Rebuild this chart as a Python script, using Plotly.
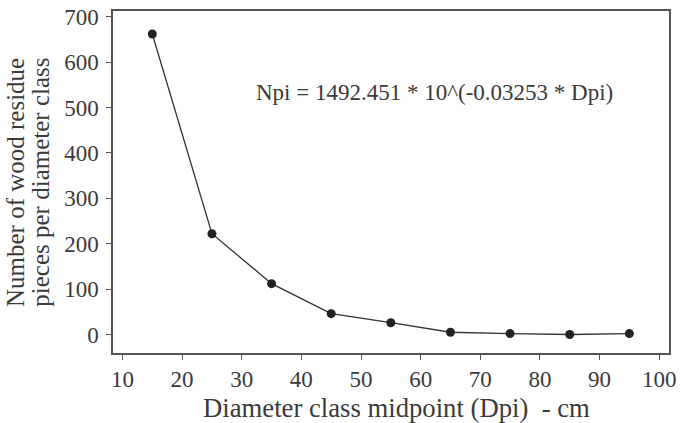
import plotly.graph_objects as go

dpi = [15, 25, 35, 45, 55, 65, 75, 85, 95]
npi = [662, 222, 112, 46, 26, 5, 2, 0, 2]
x_ticks = [10, 20, 30, 40, 50, 60, 70, 80, 90, 100]
y_ticks = [0, 100, 200, 300, 400, 500, 600, 700]
equation = "Npi = 1492.451 * 10^(-0.03253 * Dpi)"
x_title = "Diameter class midpoint (Dpi)  - cm"
y_title_lines = ["Number of wood residue", "pieces per diameter class"]

font_family = "Liberation Serif, Times New Roman, serif"
text_color = "#3a3a3a"

L, R, T, B = 112.7, 676.7, 6.0, 353.3
W, H = 682, 423

fig = go.Figure()
fig.add_trace(go.Scatter(
    x=dpi, y=npi, mode="lines+markers",
    line=dict(color="#333333", width=1.3),
    marker=dict(color="#222222", size=9),
    showlegend=False,
))

axis_common = dict(
    showline=True, linecolor="#555555", linewidth=1.5, mirror=True,
    ticks="outside", ticklen=5, tickcolor="#555555", tickwidth=1,
    showgrid=False, zeroline=False, ticklabeloverflow="allow",
    tickfont=dict(family=font_family, size=23, color=text_color),
)

fig.update_xaxes(range=[8.41, 101.65], tickvals=x_ticks, ticklabelstandoff=0, **axis_common)
fig.update_yaxes(range=[-40.7, 712.6], tickvals=y_ticks, ticklabelstandoff=3, **axis_common)

def px_to_paper_x(px):
    return (px - L) / (R - L)

def px_to_paper_y(py):
    return 1 - (py - T) / (B - T)

fig.add_annotation(
    x=px_to_paper_x(439), y=px_to_paper_y(89), xref="paper", yref="paper",
    text=equation, showarrow=False, xanchor="center", yanchor="middle",
    font=dict(family=font_family, size=23, color=text_color),
)
fig.add_annotation(
    x=px_to_paper_x(400), y=px_to_paper_y(409), xref="paper", yref="paper",
    text=x_title, showarrow=False, xanchor="center", yanchor="middle",
    font=dict(family=font_family, size=26.7, color=text_color),
)
for line, cx in zip(y_title_lines, [14, 39]):
    fig.add_annotation(
        x=px_to_paper_x(cx), y=px_to_paper_y(180), xref="paper", yref="paper",
        text=line, showarrow=False, xanchor="center", yanchor="middle", textangle=-90,
        font=dict(family=font_family, size=25, color=text_color),
    )

fig.update_layout(
    width=W, height=H,
    margin=dict(l=L, r=W - R, t=T, b=H - B),
    paper_bgcolor="white", plot_bgcolor="white",
)

fig.write_html("out.html")
